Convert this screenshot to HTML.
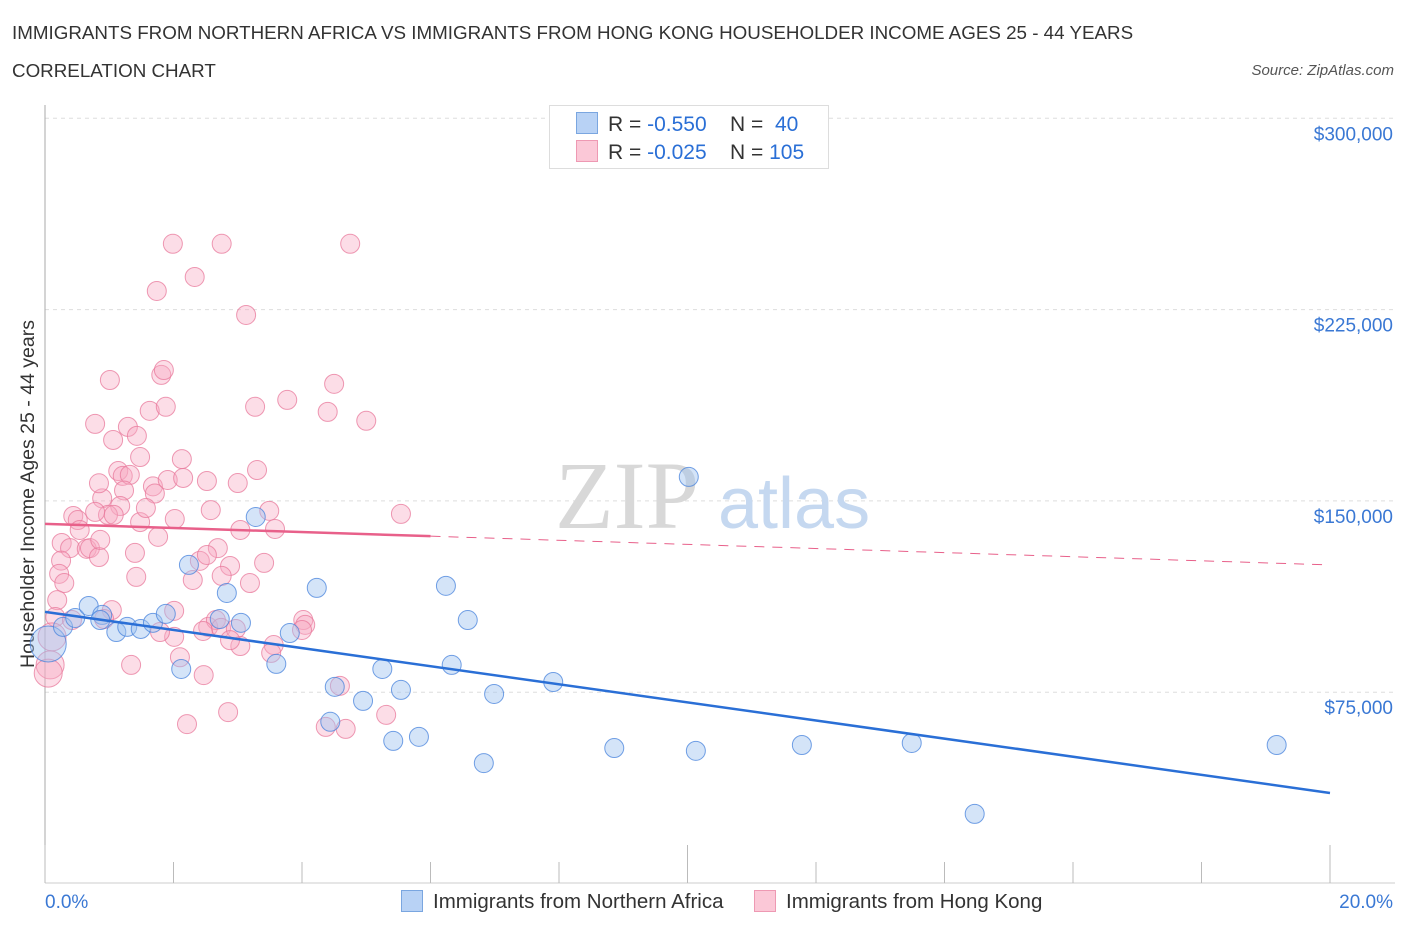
<!DOCTYPE html>
<html><head><meta charset="utf-8"><style>
body{margin:0;background:#fff;font-family:"Liberation Sans",sans-serif;}
#wrap{position:relative;width:1406px;height:930px;overflow:hidden;}
.t{position:absolute;white-space:nowrap;}
</style></head><body>
<div id="wrap">
<div class="t" style="left:12px;top:22px;font-size:18.8px;color:#333;">IMMIGRANTS FROM NORTHERN AFRICA VS IMMIGRANTS FROM HONG KONG HOUSEHOLDER INCOME AGES 25 - 44 YEARS</div>
<div class="t" style="left:12px;top:60px;font-size:18.8px;color:#333;">CORRELATION CHART</div>
<div class="t" style="right:12px;top:62px;font-size:15px;color:#555;font-style:italic;">Source: ZipAtlas.com</div>
<svg id="chart" width="1406" height="930" style="position:absolute;left:0;top:0"></svg>
</div>
<script>
const yTicks=[75000,150000,225000,300000];
const yTickLabels=["$75,000","$150,000","$225,000","$300,000"];
const xTickLabels=["0.0%","20.0%"];
const blueX=[0.05,0.28,0.47,0.68,0.89,1.11,1.28,1.49,1.68,1.88,2.12,2.24,2.72,2.83,3.05,3.28,3.60,3.81,4.23,4.51,4.44,4.95,5.25,5.42,5.54,5.82,6.24,6.33,6.58,6.83,6.99,7.91,8.86,10.02,10.13,11.78,13.49,14.47,19.17,0.86];
const blueY=[93900,100600,104100,108800,105300,98600,100600,99800,102200,105700,84100,124900,103700,113900,102200,143700,86100,98200,115900,77100,63400,71600,84100,55900,75900,57500,116700,85700,103300,47200,74300,79000,53100,159400,52000,54300,55100,27300,54300,103300];
const pinkX=[1.99,2.75,4.75,2.33,1.74,3.13,1.01,1.81,1.85,4.50,0.78,1.63,1.88,3.27,3.77,4.40,5.00,1.06,1.29,1.43,1.48,2.13,1.14,1.21,1.32,3.30,0.89,0.84,1.23,1.68,1.71,1.91,2.15,2.52,3.00,1.17,0.44,0.51,0.98,1.07,1.48,1.57,2.02,2.58,3.04,3.49,3.58,5.54,0.26,0.39,0.65,0.70,0.84,0.25,0.22,0.30,0.19,0.16,0.11,0.08,0.05,1.40,1.76,1.42,2.41,2.69,2.88,2.75,3.19,3.41,2.30,2.01,2.01,1.34,2.54,2.66,2.46,2.74,2.97,3.04,3.56,3.52,4.02,4.05,4.00,4.59,4.37,4.68,5.31,2.21,2.85,2.47,2.10,1.04,0.92,1.79,0.42,0.54,0.78,2.52,2.88,0.86];
const pinkY=[250800,250800,250800,237800,232300,222900,197400,199400,201300,195900,180200,185300,186900,186900,189600,184900,181400,173900,179000,175500,167200,166400,161700,159800,160200,162100,151000,156900,154100,155700,152900,158200,159000,157800,157000,148000,144100,142500,144500,144500,141700,147200,142900,146400,138600,146100,139000,144900,133500,131500,131200,131500,128000,126600,121400,117800,111100,104500,96700,85700,82500,129600,135900,120200,126500,131500,124500,120600,117800,125700,119000,106900,96700,85700,100600,103300,99000,100200,99800,93100,93500,90400,103300,101400,99400,77500,61400,60600,66100,62500,67200,81700,88700,107200,103700,98600,103300,138600,145700,128800,95400,134700];
const blueTrend=[106500,35500];
const pinkTrend=[141000,124900];
const pinkSolidEnd=6;

const svg=document.getElementById('chart');
const NS='http://www.w3.org/2000/svg';
const X0=45,X1=1330,YB=883.5,PPV=191.3/75000;
const xs=v=>X0+(v/20)*(X1-X0);
const ys=v=>YB-v*PPV;
function mk(tag,attrs,parent){const e=document.createElementNS(NS,tag);for(const k in attrs)e.setAttribute(k,attrs[k]);(parent||svg).appendChild(e);return e;}

yTicks.forEach((t,i)=>{
  const g=mk('line',{x1:X0,x2:1395,y1:ys(t),y2:ys(t),stroke:'#ddd','stroke-dasharray':'4,4'});
  
  
  const l=mk('text',{x:1393,y:ys(t)+22,'text-anchor':'end','font-size':19,fill:'#3a78d4','font-family':'Liberation Sans, sans-serif'});
  l.textContent=yTickLabels[i];
  
  
});
const w1=mk('text',{x:555,y:528,'font-size':96,fill:'#d8d8d8','font-family':'Liberation Serif, serif'});w1.textContent='ZIP';


const w2=mk('text',{x:718,y:528,'font-size':72,fill:'#c5d8f0','font-family':'Liberation Sans, sans-serif'});w2.textContent='atlas';


const ax=mk('line',{x1:X0,x2:X0,y1:105,y2:883,stroke:'#aaa'});


const bx=mk('line',{x1:X0,x2:1395,y1:883,y2:883,stroke:'#ccc'});


for(let i=0;i<=10;i++){
  const tk=mk('line',{x1:xs(i*2),x2:xs(i*2),y1:(i==0||i==10||i==5)?845:862,y2:883,stroke:'#bbb'});
  
  
}
xTickLabels.forEach((s,i)=>{
  const t=mk('text',{x:i?1393:45,y:908,'text-anchor':i?'end':'start','font-size':19,fill:'#3a78d4','font-family':'Liberation Sans, sans-serif'});
  t.textContent=s;
  
  
});
const yt=mk('text',{transform:'translate(34,494) rotate(-90)','text-anchor':'middle','font-size':19.5,fill:'#333','font-family':'Liberation Sans, sans-serif'});
yt.textContent='Householder Income Ages 25 - 44 years';



pinkX.forEach((x,i)=>{
  const r=(x<0.15)?14:9.5;
  const c=mk('circle',{cx:xs(x),cy:ys(pinkY[i]),r:r,fill:'rgba(248,170,195,0.4)',stroke:'rgba(232,120,155,0.75)','stroke-width':1});
  
  
});
blueX.forEach((x,i)=>{
  const r=(i==0)?18:9.5;
  const c=mk('circle',{cx:xs(x),cy:ys(blueY[i]),r:r,fill:'rgba(160,195,240,0.45)',stroke:'rgba(70,130,220,0.75)','stroke-width':1});
  
  
});
const bl=mk('line',{x1:xs(0),y1:ys(blueTrend[0]),x2:xs(20),y2:ys(blueTrend[1]),stroke:'#2a6fd6','stroke-width':2.5});


const pm=pinkTrend[0]+(pinkTrend[1]-pinkTrend[0])*pinkSolidEnd/20;
const pl=mk('line',{x1:xs(0),y1:ys(pinkTrend[0]),x2:xs(pinkSolidEnd),y2:ys(pm),stroke:'#e8608a','stroke-width':2.5});


const pd=mk('line',{x1:xs(pinkSolidEnd),y1:ys(pm),x2:xs(20),y2:ys(pinkTrend[1]),stroke:'#e8608a','stroke-width':1,'stroke-dasharray':'10,8'});


</script>
<div class="t" style="left:549px;top:105px;width:278px;height:62px;border:1px solid #ddd;background:#fff;font-size:21px;color:#333;">
 <div style="position:absolute;left:26px;top:6px;"><span style="display:inline-block;width:20px;height:20px;background:#b8d2f5;border:1px solid #7aa6e0;vertical-align:-3px;margin-right:10px"></span>R = <span style="color:#2a6fd6">-0.550</span>&nbsp;&nbsp;&nbsp; N = &nbsp;<span style="color:#2a6fd6">40</span></div>
 <div style="position:absolute;left:26px;top:34px;"><span style="display:inline-block;width:20px;height:20px;background:#fbc8d7;border:1px solid #ee99b3;vertical-align:-3px;margin-right:10px"></span>R = <span style="color:#2a6fd6">-0.025</span>&nbsp;&nbsp;&nbsp; N = <span style="color:#2a6fd6">105</span></div>
</div>
<div class="t" style="left:401px;top:890px;font-size:20.5px;color:#333;"><span style="display:inline-block;width:20px;height:20px;background:#b8d2f5;border:1px solid #7aa6e0;vertical-align:-4px;margin-right:10px"></span>Immigrants from Northern Africa</div>
<div class="t" style="left:754px;top:890px;font-size:20.5px;color:#333;"><span style="display:inline-block;width:20px;height:20px;background:#fbc8d7;border:1px solid #ee99b3;vertical-align:-4px;margin-right:10px"></span>Immigrants from Hong Kong</div>
</body></html>
